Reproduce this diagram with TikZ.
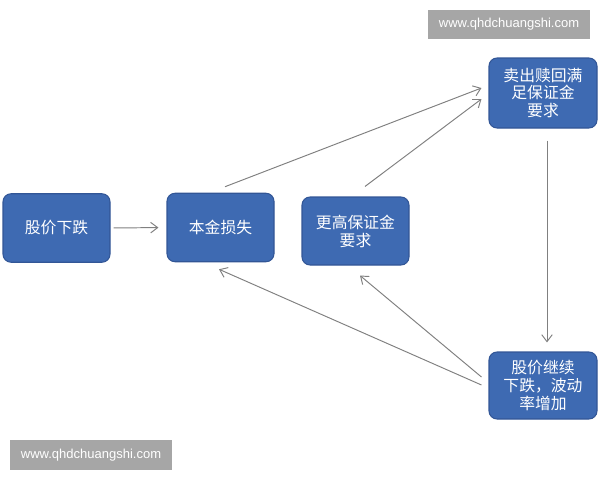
\documentclass[tikz,border=0pt]{standalone}
\usepackage{xcolor}
\usepackage{fontspec}
\usepackage{tikz}
\usetikzlibrary{arrows.meta}
\newfontfamily\cjk{Noto Sans CJK SC}
\setsansfont{Liberation Sans}
\definecolor{boxblue}{RGB}{62, 106, 178}
\definecolor{boxedge}{RGB}{50, 86, 150}
\definecolor{linegray}{RGB}{128, 128, 128}
\definecolor{tag}{RGB}{166, 166, 166}

\begin{document}
\begin{tikzpicture}[>={Straight Barb[length=4pt,width=6pt]}]
        % Styles
        \tikzset{stagebox/.style={rectangle, draw=boxedge, line width=0.6pt, fill=boxblue, text=white, font=\cjk\fontsize{9}{10.2}\selectfont, align=center, rounded corners=0.16cm, minimum width=2.14cm, minimum height=1.37cm, inner sep=1pt}}
        \tikzset{webtag/.style={rectangle, fill=tag, text=white, font=\sffamily\fontsize{7.4}{9}\selectfont, minimum width=3.24cm, minimum height=0.59cm, inner sep=0pt}}
        \tikzset{flow/.style={->, draw=linegray, line width=0.55pt}}

        % Frame
        \useasboundingbox (0,0) rectangle (12,9.6);

        % Stages
        \node[stagebox] (drop) at (1.13,5.04) {股价下跌};
        \node[stagebox] (loss) at (4.41,5.05) {本金损失};
        \node[stagebox, minimum height=1.36cm] (margin) at (7.11,4.98) {更高保证金\\要求};
        \node[stagebox, minimum width=2.16cm, minimum height=1.40cm] (sell) at (10.86,7.74) {卖出赎回满\\足保证金\\要求};
        \node[stagebox, minimum width=2.16cm, minimum height=1.34cm] (further) at (10.86,1.89) {股价继续\\下跌，波动\\率增加};

        % Web tags
        \node[webtag] (tagtop) at (10.18,9.11) {www.qhdchuangshi.com};
        \node[webtag] (tagbottom) at (1.82,0.50) {www.qhdchuangshi.com};

        % Connections
        \draw[flow, shorten <=0.06cm, shorten >=0.16cm] (drop.east) -- (loss.west);
        \draw[flow] ([shift={(0.09,0.12)}]loss.north) -- ([shift={(-0.14,0.10)}]sell.west);
        \draw[flow] ([shift={(0.19,0.20)}]margin.north) -- ([shift={(-0.14,-0.12)}]sell.west);
        \draw[flow] ([shift={(0.08,-0.24)}]sell.south) -- ([shift={(0.08,0.18)}]further.north);
        \draw[flow] ([shift={(-0.14,0.01)}]further.west) -- ([shift={(-0.03,-0.14)}]loss.south);
        \draw[flow] ([shift={(-0.14,0.17)}]further.west) -- ([shift={(0.09,-0.20)}]margin.south);
    \end{tikzpicture}
\end{document}
